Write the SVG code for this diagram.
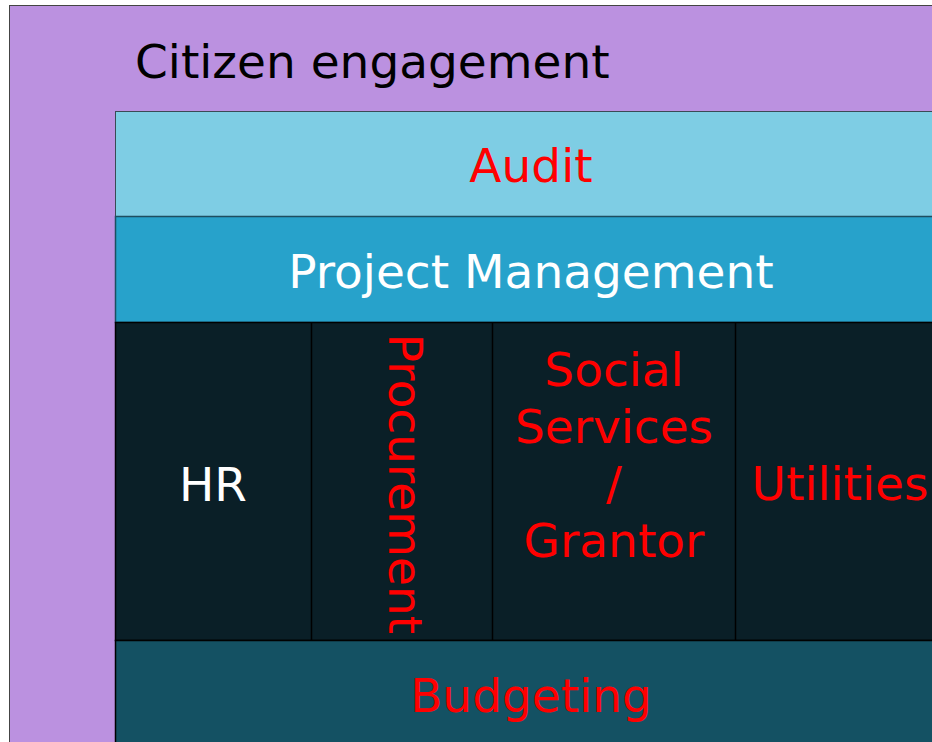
<svg xmlns="http://www.w3.org/2000/svg" width="932" height="742" viewBox="0 0 932 742">
<style>
text{font-family:"DejaVu Sans","Verdana",sans-serif;font-size:47px;text-anchor:middle}
.r{fill:#ff0000}.w{fill:#ffffff}.k{fill:#000000}
.div{stroke:#000000;stroke-width:1.5}
</style>
<rect width="932" height="742" fill="#ffffff"/>
<g id="citizen">
<rect x="9.5" y="5.5" width="940" height="760" fill="#bb91e0" stroke="#444444" stroke-width="1"/>
<text x="135" y="78" class="k" style="text-anchor:start">Citizen engagement</text>
</g>
<g id="audit">
<rect x="115.5" y="111.5" width="830" height="105" fill="#7ecde4" stroke="#3a4a55" stroke-width="1"/>
<text x="531" y="182" class="r">Audit</text>
</g>
<g id="project-management">
<rect x="115.5" y="216.5" width="830" height="106" fill="#27a2cb" stroke="#1d4e60" stroke-width="1.5"/>
<text x="531" y="288" class="w">Project Management</text>
</g>
<g id="middle">
<rect x="115.5" y="322.5" width="830" height="318" fill="#0a1f27" stroke="#000000" stroke-width="1.5"/>
</g>
<g id="hr">
<text x="213" y="501" class="w">HR</text>
</g>
<g id="procurement">
<line x1="311.5" y1="322" x2="311.5" y2="640" class="div"/>
<text x="0" y="0" class="r" transform="translate(389,484) rotate(90)">Procurement</text>
</g>
<g id="social-services">
<line x1="492.5" y1="322" x2="492.5" y2="640" class="div"/>
<text class="r"><tspan x="614" y="386">Social</tspan><tspan x="614" y="443">Services</tspan><tspan x="614" y="500">/</tspan><tspan x="614" y="557">Grantor</tspan></text>
</g>
<g id="utilities">
<line x1="735.5" y1="322" x2="735.5" y2="640" class="div"/>
<text x="840" y="500" class="r">Utilities</text>
</g>
<g id="budgeting">
<rect x="115.5" y="640.5" width="830" height="120" fill="#145163" stroke="#000000" stroke-width="1.5"/>
<text x="531" y="712" class="r">Budgeting</text>
</g>
<g id="connectors"></g>
</svg>
